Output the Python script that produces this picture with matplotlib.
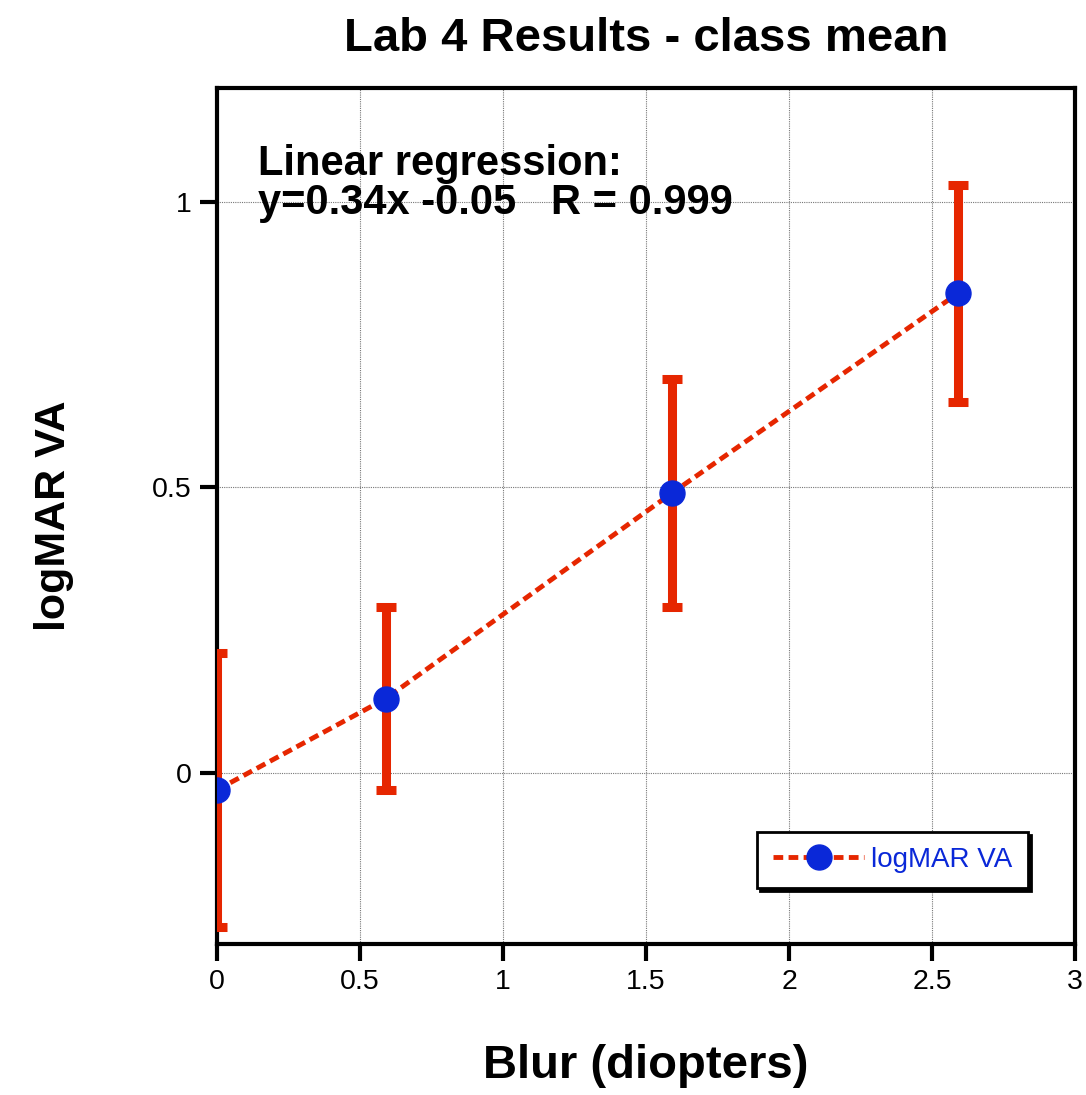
import matplotlib
matplotlib.use("Agg")
import matplotlib.pyplot as plt

blur = [0.0, 0.59, 1.59, 2.59]
logmar = [-0.03, 0.13, 0.49, 0.84]
err = [0.24, 0.16, 0.20, 0.19]
xticks = [0, 0.5, 1, 1.5, 2, 2.5, 3]
xticklabels = ["0", "0.5", "1", "1.5", "2", "2.5", "3"]
yticks = [0, 0.5, 1]
yticklabels = ["0", "0.5", "1"]

plt.rcParams['font.family'] = ['Liberation Sans', 'DejaVu Sans']

red = '#E62600'
blue = '#0A28D8'

fig = plt.figure(figsize=(10.86, 10.95), dpi=100)
ax = fig.add_axes([0.1998, 0.1379, 0.9899 - 0.1998, 0.9196 - 0.1379])

ax.errorbar(blur, logmar, yerr=err, fmt='none', ecolor=red, elinewidth=6.5,
            capsize=7.5, capthick=6.5, zorder=3)
ax.plot(blur, logmar, linestyle=(0, (2.0, 1.1)), color=red, lw=3.5,
        marker='o', markersize=18, markerfacecolor=blue, markeredgecolor=blue,
        label='logMAR VA', zorder=4)

ax.set_xlim(0, 3)
ax.set_ylim(-0.3, 1.2)
ax.set_xticks(xticks)
ax.set_xticklabels(xticklabels)
ax.set_yticks(yticks)
ax.set_yticklabels(yticklabels)
ax.grid(True, color='#777777', linestyle=(0, (1, 1)), lw=0.8)
ax.set_axisbelow(True)
for s in ax.spines.values():
    s.set_linewidth(3)
ax.tick_params(direction='out', length=12, width=3, labelsize=20.5, pad=6)

ax.set_title('Lab 4 Results - class mean', fontsize=34, fontweight='bold', pad=27)
ax.set_xlabel('Blur (diopters)', fontsize=34, fontweight='bold', labelpad=35)
ax.set_ylabel('logMAR VA', fontsize=31, fontweight='bold', labelpad=56)

ax.text(0.048, 0.935, 'Linear regression:\ny=0.34x -0.05   R = 0.999',
        transform=ax.transAxes, fontsize=30, fontweight='bold', va='top',
        ha='left', linespacing=0.97)

leg = ax.legend(loc='lower right', bbox_to_anchor=(0.945, 0.065), fontsize=20,
                frameon=True, fancybox=False, shadow={'color': 'black', 'alpha': 1},
                edgecolor='black', handlelength=3.3, borderpad=0.55,
                handletextpad=0.25, labelcolor=blue, borderaxespad=0)
leg.get_frame().set_linewidth(2)

fig.savefig('out.png', dpi=100)
